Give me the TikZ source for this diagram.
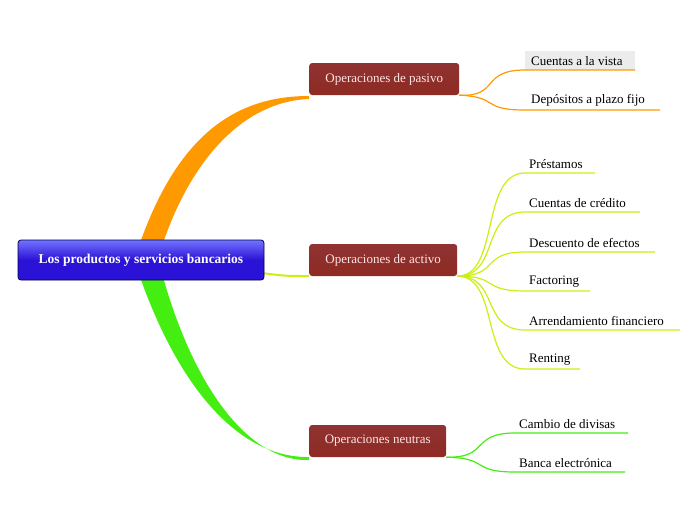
\documentclass[tikz,border=0pt]{standalone}
\usepackage{fontspec}
\setmainfont{Liberation Serif}
\usetikzlibrary{positioning}

\definecolor{rootblue}{HTML}{2A12D6}
\definecolor{branchred}{HTML}{8E2A22}
\definecolor{orng}{HTML}{FF9900}
\definecolor{lime}{HTML}{CCEE11}
\definecolor{grn}{HTML}{44EE11}

\begin{document}
\begin{tikzpicture}[
  x=1pt, y=-1pt,
  every node/.style={font=\fontsize{13}{15}\selectfont},
  root/.style={rectangle, draw=blue!30!black, thick, rounded corners=3pt,
               top color=blue!55, bottom color=rootblue, middle color=rootblue,
               text=white, font=\fontsize{13.5}{15}\selectfont\bfseries,
               minimum width=246pt, minimum height=40pt},
  branch/.style={rectangle, rounded corners=3pt, top color=red!45!black!80,
               bottom color=branchred, text=white!90!red,
               font=\fontsize{13}{15}\selectfont,
               minimum height=32pt, inner xsep=6pt, anchor=west},
  leaf/.style={anchor=south west, inner xsep=2pt, inner ysep=4pt},
  twig/.style={line width=1.2pt}
]
\useasboundingbox (0,0) rectangle (696,520);

% thick tapered limbs
\fill[orng] (140,243) .. controls (180,130) and (240,96) .. (309,96)
  -- (309,99) .. controls (250,101) and (195,150) .. (163,243) -- cycle;
\fill[grn] (140,277) .. controls (180,390) and (240,458) .. (309,457)
  -- (309,460) .. controls (250,462) and (195,390) .. (163,277) -- cycle;
\draw[lime, line width=2pt] (262,273) .. controls (285,276) .. (309,276);

% root and branches
\node[root] (root) at (141,260) {Los productos y servicios bancarios};
\node[branch, minimum width=150pt] (pasivo) at (309,79) {Operaciones de pasivo};
\node[branch, minimum width=148pt] (activo) at (309,260) {Operaciones de activo};
\node[branch, minimum width=137pt] (neutras) at (309,441) {Operaciones neutras};

% leaves of pasivo
\fill[gray!15] (525,51) rectangle (635,70);
\node[leaf] (vista) at (529,70) {Cuentas a la vista};
\node[leaf] (plazo) at (529,110) {Depósitos a plazo fijo};
\draw[orng, twig] (pasivo.south east) .. controls (500,97) and (480,70) .. (525,70) -- (635,70);
\draw[orng, twig] (pasivo.south east) .. controls (500,97) and (480,110) .. (525,110) -- (660,110);

% leaves of activo
\foreach \y/\t/\e/\n in {173/Préstamos/595/prest, 212/Cuentas de crédito/640/cred,
    252/Descuento de efectos/655/desc, 291/Factoring/590/fact,
    330/Arrendamiento financiero/680/arr, 369/Renting/580/rent}{
  \node[leaf] (\n) at (527,\y) {\t};
  \draw[lime, twig] (activo.south east) .. controls (500,276) and (480,\y) .. (525,\y) -- (\e,\y);
}

% leaves of neutras
\node[leaf] (cambio) at (517,433) {Cambio de divisas};
\node[leaf] (banca) at (517,472) {Banca electrónica};
\draw[grn, twig] (neutras.south east) .. controls (490,458) and (470,433) .. (515,433) -- (628,433);
\draw[grn, twig] (neutras.south east) .. controls (490,458) and (470,472) .. (515,472) -- (625,472);
\end{tikzpicture}
\end{document}
